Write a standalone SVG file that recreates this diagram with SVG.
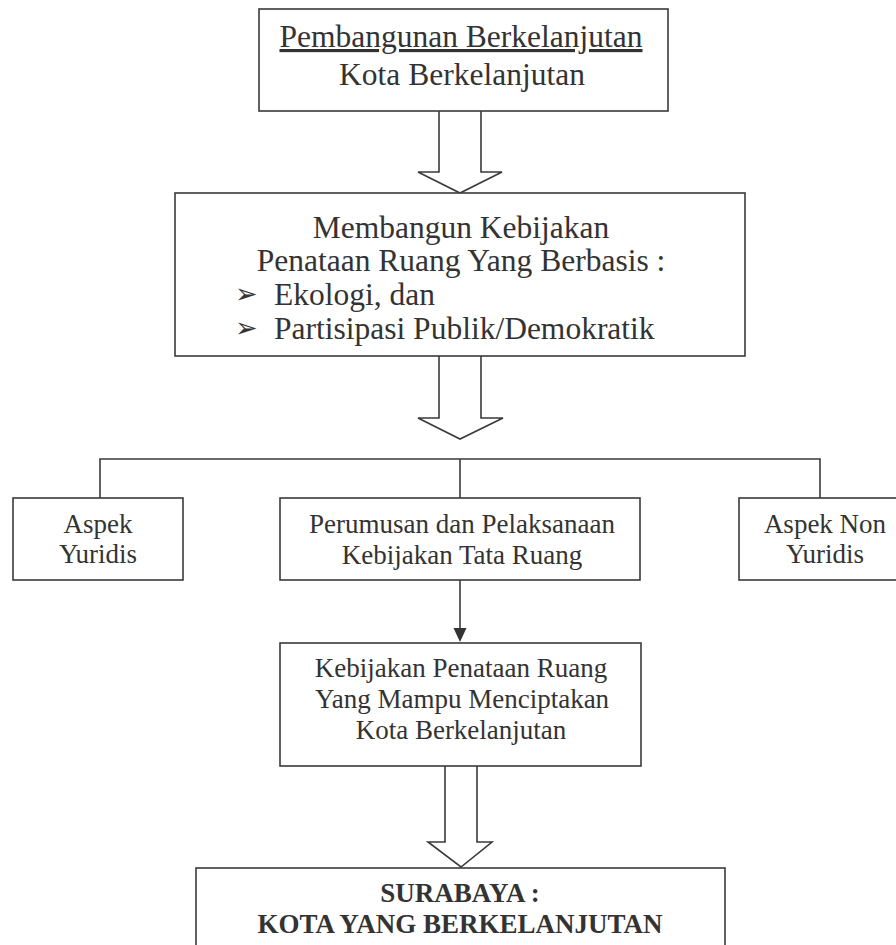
<svg xmlns="http://www.w3.org/2000/svg" width="896" height="945" viewBox="0 0 896 945">
<style>
.box{fill:#fff;stroke:#3a3a3a;stroke-width:1.6}
.blk{fill:#fff;stroke:#3a3a3a;stroke-width:1.6;stroke-linejoin:miter}
.ln{fill:none;stroke:#3a3a3a;stroke-width:1.6}
.t{font-family:"Liberation Serif","Times New Roman",serif;fill:#333;text-anchor:middle}
.b{font-size:31.5px}
.s{font-size:27px}
.bold{font-weight:bold}
.bul{font-family:"DejaVu Sans",sans-serif;font-size:27px;fill:#333}
</style>
<rect width="896" height="945" fill="#fff"/>

<g id="connectors">
<path class="blk" d="M439,111 V172 H418 L460,193 L502,172 H481 V111"/>
<path class="blk" d="M439,356 V418 H418 L460,439 L503,418 H481 V356"/>
<path class="ln" d="M100,498 V459 H820 V498 M460,459 V498"/>
<line class="ln" x1="460" y1="580" x2="460" y2="629"/>
<path d="M453.5,628 L466.5,628 L460,642 Z" fill="#333"/>
<path class="blk" d="M445,766 V842 H428 L461,867 L492,842 H477 V766"/>
</g>

<g id="node-top">
<rect class="box" x="259" y="9" width="409" height="102"/>
<text class="t b" x="461" y="47" text-decoration="underline">Pembangunan Berkelanjutan</text>
<text class="t b" x="462" y="85">Kota Berkelanjutan</text>
</g>

<g id="node-kebijakan">
<rect class="box" x="175" y="193" width="570" height="163"/>
<text class="t b" x="461" y="238">Membangun Kebijakan</text>
<text class="t b" x="461" y="271">Penataan Ruang Yang Berbasis :</text>
<text class="bul" x="235" y="303">➢</text>
<text class="t b" x="274" y="305" style="text-anchor:start">Ekologi, dan</text>
<text class="bul" x="235" y="337">➢</text>
<text class="t b" x="274" y="339" style="text-anchor:start">Partisipasi Publik/Demokratik</text>
</g>

<g id="node-yuridis">
<rect class="box" x="13" y="498" width="170" height="82"/>
<text class="t s" x="98" y="533">Aspek</text>
<text class="t s" x="98" y="563">Yuridis</text>
</g>

<g id="node-perumusan">
<rect class="box" x="280" y="498" width="360" height="82"/>
<text class="t s" x="462" y="533">Perumusan dan Pelaksanaan</text>
<text class="t s" x="462" y="564">Kebijakan Tata Ruang</text>
</g>

<g id="node-nonyuridis">
<rect class="box" x="739" y="498" width="171" height="82"/>
<text class="t s" x="825" y="533">Aspek Non</text>
<text class="t s" x="825" y="563">Yuridis</text>
</g>

<g id="node-kebijakan-penataan">
<rect class="box" x="280" y="643" width="361" height="123"/>
<text class="t s" x="461" y="677">Kebijakan Penataan Ruang</text>
<text class="t s" x="462" y="708">Yang Mampu Menciptakan</text>
<text class="t s" x="461" y="739">Kota Berkelanjutan</text>
</g>

<g id="node-surabaya">
<rect class="box" x="196" y="868" width="529" height="100"/>
<text class="t s bold" x="460" y="902">SURABAYA :</text>
<text class="t s bold" x="460" y="933">KOTA YANG BERKELANJUTAN</text>
</g>
</svg>
